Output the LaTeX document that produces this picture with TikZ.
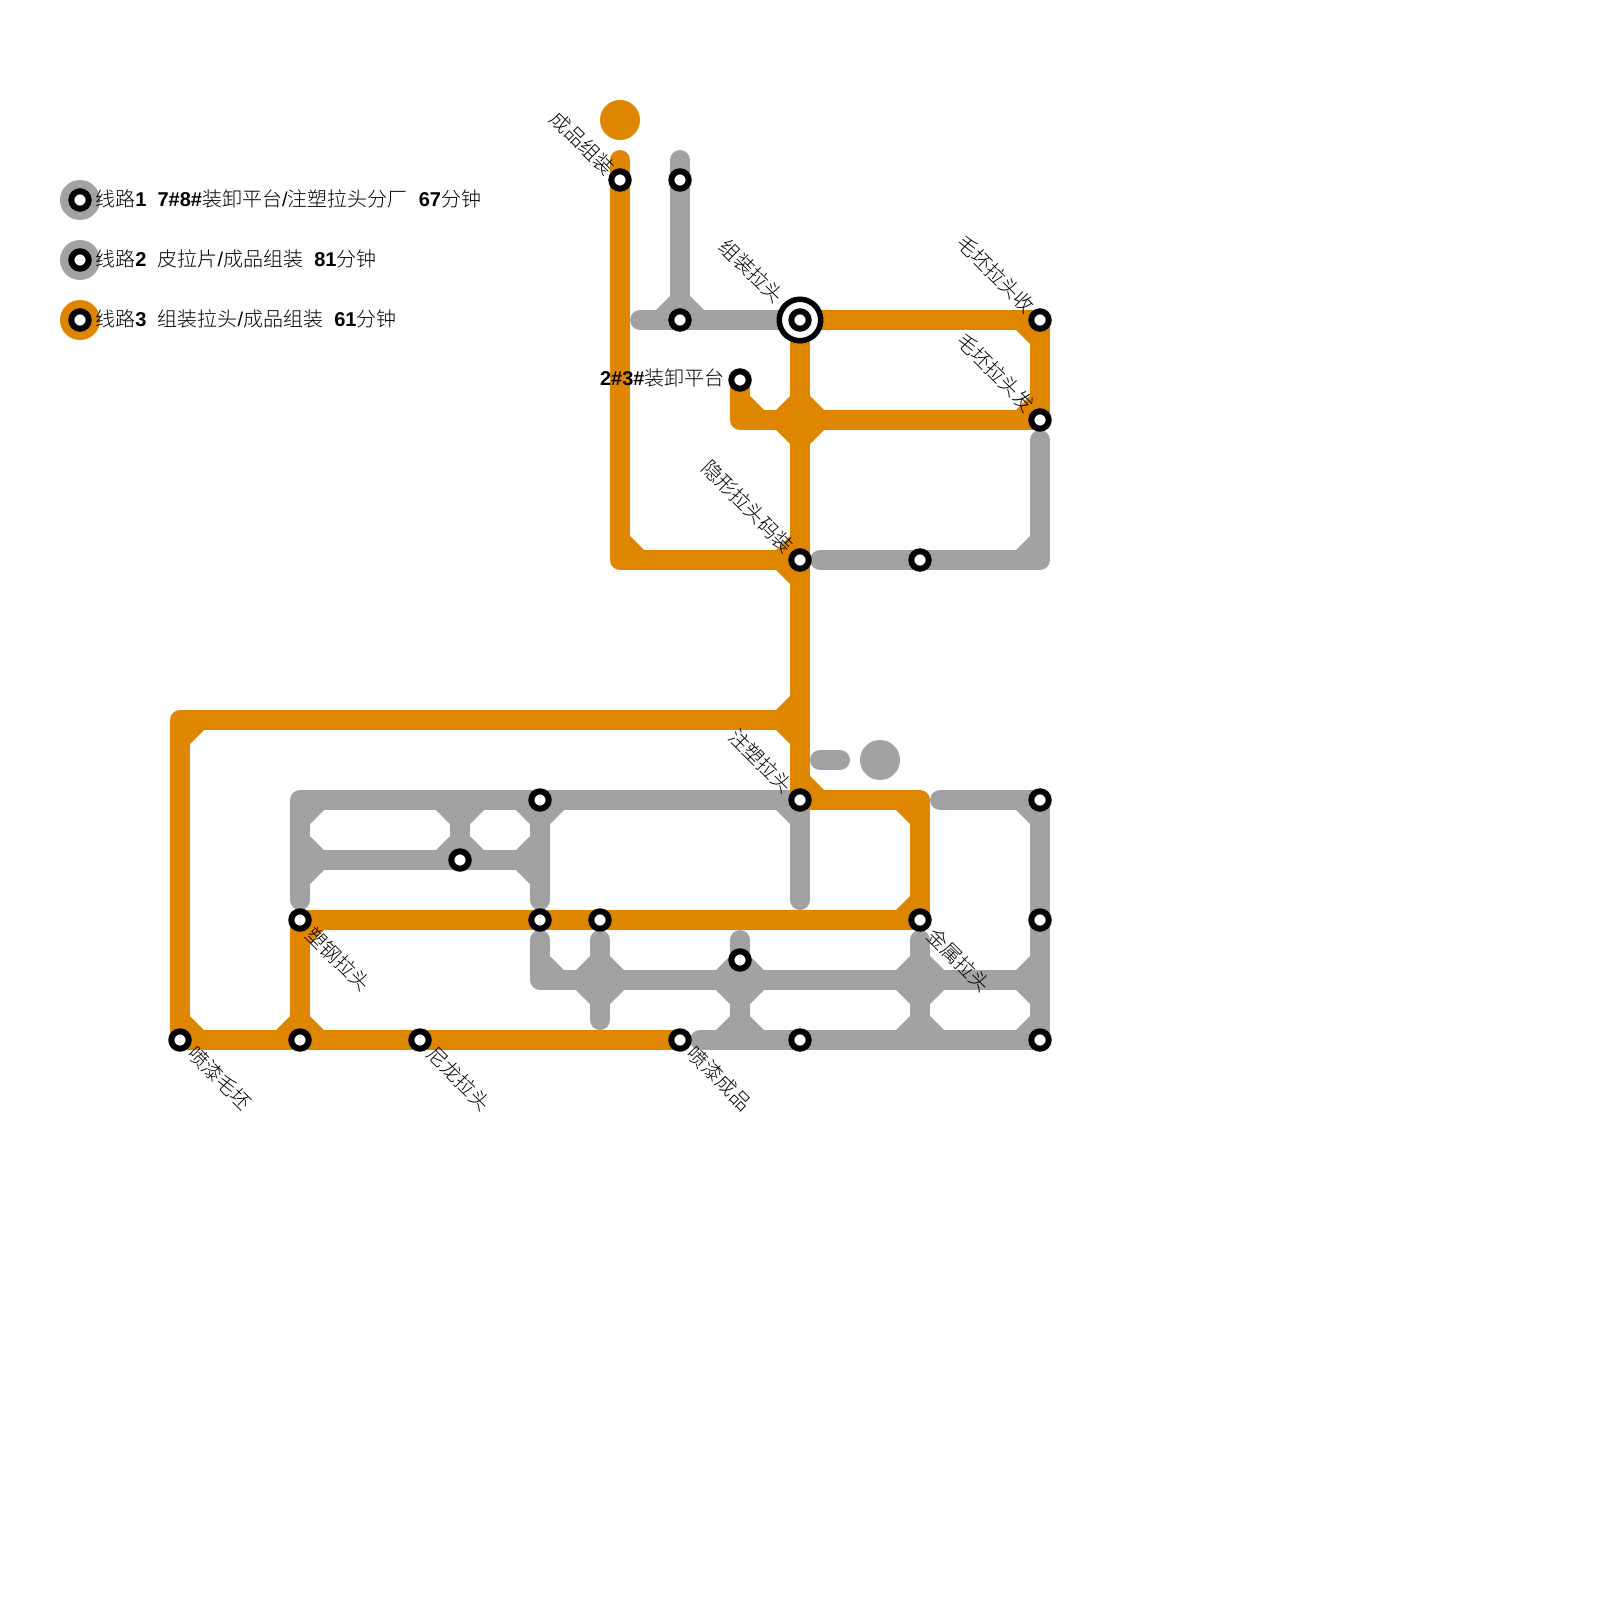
\documentclass[tikz,border=0pt]{standalone}
\usepackage{fontspec}
\setmainfont{Liberation Sans}
\newfontfamily\cjk{Noto Sans CJK SC Light}
\definecolor{lineorange}{HTML}{DF8600}
\definecolor{linegray}{HTML}{A2A2A2}
\newcommand{\zh}[1]{{\cjk #1}}
\tikzset{
  metroline/.style={line width=10pt,line cap=round,line join=round},
  orangeline/.style={metroline,draw=lineorange},
  grayline/.style={metroline,draw=linegray},
  station/.style={circle,draw=black,fill=white,line width=3pt,minimum size=8.7pt,inner sep=0pt,outer sep=0pt},
  terminus/.style={circle,fill=#1,minimum size=20pt,inner sep=0pt,outer sep=0pt},
  placelabel/.style={rotate=-45,inner sep=0pt,font=\fontsize{10}{12}\selectfont},
  legendtext/.style={anchor=base west,inner sep=0pt,font=\fontsize{10}{12}\selectfont},
  hub/.style={circle,draw=black,fill=white,line width=2.75pt,minimum size=20.75pt,inner sep=0pt,outer sep=0pt},
}
\begin{document}
\begin{tikzpicture}[x=0.5pt,y=-0.5pt]
\useasboundingbox (0,0) rectangle (1600,1600);
% points of the network
\foreach \n/\x/\y in {
 a/620/160,b/620/180,c/620/560,d/800/560,e/800/320,f/1040/320,g/1040/420,h/740/420,i/740/380,
 j/800/420,k/800/720,l/800/800,m/180/720,n/180/1040,o/300/1040,p/420/1040,q/680/1040,r/300/920,
 s/920/920,t/920/800,u/540/920,v/600/920,
 ga/680/160,gb/680/180,gc/680/320,gd/640/320,ge/1040/440,gf/1040/560,gg/820/560,gh/920/560,
 gi/300/800,gj/300/900,gk/540/800,gl/800/900,gm/300/860,gn/460/860,go/540/860,gp/540/900,gq/460/800,
 gr/540/940,gs/540/980,gt/1040/980,gu/600/940,gv/600/1020,gw/600/980,gx/740/940,gy/740/960,gz/740/1040,
 ha/920/940,hb/920/1040,hc/700/1040,hd/800/1040,he/1040/1040,hf/940/800,hg/1040/800,hh/1040/920,
 hi/820/760,hj/840/760,hk/920/980,hl/740/980}
 {\coordinate (\n) at (\x,\y);}
% gray lines
\draw[grayline] (ga) -- (gc);
\draw[grayline] (gd) -- (e);
\draw[grayline] (ge) -- (gf) -- (gg);
\draw[grayline] (gj) -- (gi) -- (l) -- (gl);
\draw[grayline] (gm) -- (go);
\draw[grayline] (gq) -- (gn);
\draw[grayline] (gk) -- (gp);
\draw[grayline] (gr) -- (gs) -- (gt);
\draw[grayline] (gu) -- (gv);
\draw[grayline] (gx) -- (gz);
\draw[grayline] (ha) -- (hb);
\draw[grayline] (hc) -- (he);
\draw[grayline] (hf) -- (hg) -- (he);
\draw[grayline] (hi) -- (hj);
\fill[linegray] (880,760) circle (20);
% gray corner fills: x/y/sx/sy, inner corner at x+10sx,y+10sy
\foreach \x/\y/\a/\b in {
 680/320/-1/-1,680/320/1/-1,1040/560/-1/-1,300/800/1/1,300/860/1/-1,300/860/1/1,
 460/800/-1/1,460/800/1/1,460/860/-1/-1,460/860/1/-1,
 540/800/-1/1,540/800/1/1,540/860/-1/-1,540/860/-1/1,800/800/-1/1,
 540/980/1/-1,600/980/-1/-1,600/980/1/-1,600/980/-1/1,600/980/1/1,
 740/980/-1/-1,740/980/1/-1,740/980/-1/1,740/980/1/1,740/1040/-1/-1,740/1040/1/-1,
 920/980/-1/-1,920/980/1/-1,920/980/-1/1,920/980/1/1,920/1040/-1/-1,920/1040/1/-1,
 1040/800/-1/1,1040/980/-1/-1,1040/980/-1/1,1040/1040/-1/-1}
 {\fill[linegray] (\x+10*\a,\y+10*\b) -- +(14*\a,0) -- +(0,14*\b) -- cycle;}
% orange lines
\draw[orangeline] (a) -- (c) -- (d);
\draw[orangeline] (e) -- (l);
\draw[orangeline] (e) -- (f) -- (g) -- (h) -- (i);
\draw[orangeline] (k) -- (m) -- (n) -- (q);
\draw[orangeline] (o) -- (r) -- (s) -- (t) -- (l);
\fill[lineorange] (620,120) circle (20);
\foreach \x/\y/\a/\b in {
 620/560/1/-1,800/560/-1/-1,800/560/-1/1,1040/320/-1/1,1040/420/-1/-1,740/420/1/-1,
 800/420/-1/-1,800/420/1/-1,800/420/-1/1,800/420/1/1,
 800/720/-1/-1,800/720/-1/1,180/720/1/1,180/1040/1/-1,300/1040/-1/-1,300/1040/1/-1,
 300/920/1/1,920/920/-1/-1,920/800/-1/1,800/800/1/-1}
 {\fill[lineorange] (\x+10*\a,\y+10*\b) -- +(14*\a,0) -- +(0,14*\b) -- cycle;}
% stations
\foreach \n in {b,f,g,i,d,l,n,o,p,q,r,s,u,v,gb,gc,gh,gk,gn,gy,hd,he,hg,hh}
 {\node[station] (st\n) at (\n) {};}
\node[hub] (hubouter) at (e) {};
\node[station] (hubinner) at (e) {};
% legend
\node[terminus=linegray] (lg1) at (80,200) {};
\node[terminus=linegray] (lg2) at (80,260) {};
\node[terminus=lineorange] (lg3) at (80,320) {};
\node[station] (ls1) at (lg1) {};
\node[station] (ls2) at (lg2) {};
\node[station] (ls3) at (lg3) {};
\node[legendtext] (t1) at (95,206) {\zh{线路}\textbf{1}~~\textbf{7\#8\#}\zh{装卸平台}/\zh{注塑拉头分厂}~~\textbf{67}\zh{分钟}};
\node[legendtext] (t2) at (95,266) {\zh{线路}\textbf{2}~~\zh{皮拉片}/\zh{成品组装}~~\textbf{81}\zh{分钟}};
\node[legendtext] (t3) at (95,326) {\zh{线路}\textbf{3}~~\zh{组装拉头}/\zh{成品组装}~~\textbf{61}\zh{分钟}};
% labels
\node[placelabel] (n1) at (582.5,143.5) {\zh{成品组装}};
\node[placelabel] (n2) at (751.5,271) {\zh{组装拉头}};
\node[placelabel] (n3) at (996,274) {\zh{毛坯拉头收}};
\node[placelabel] (n4) at (996,372.5) {\zh{毛坯拉头发}};
\node[legendtext,anchor=base east] (n5) at (725,385) {\textbf{2\#3\#}\zh{装卸平台}};
\node[placelabel] (n6) at (748,506.5) {\zh{隐形拉头码装}};
\node[placelabel] (n7) at (220,1078) {\zh{喷漆毛坯}};
\node[placelabel] (n8) at (338.5,959) {\zh{塑钢拉头}};
\node[placelabel] (n9) at (459,1078.5) {\zh{尼龙拉头}};
\node[placelabel] (n10) at (761,761) {\zh{注塑拉头}};
\node[placelabel] (n11) at (959,960) {\zh{金属拉头}};
\node[placelabel] (n12) at (719.5,1078.5) {\zh{喷漆成品}};
\end{tikzpicture}
\end{document}
